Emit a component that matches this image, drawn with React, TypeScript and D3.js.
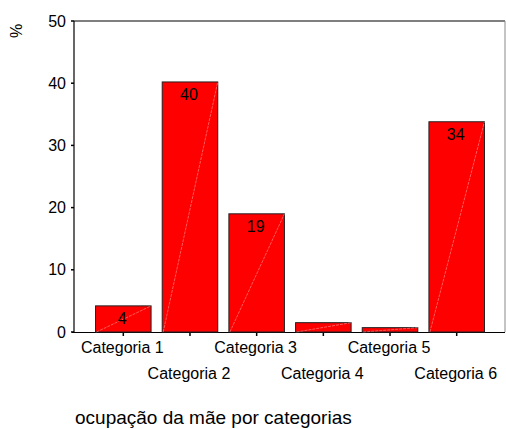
import * as d3 from "d3";

const categories = ["Categoria 1", "Categoria 2", "Categoria 3", "Categoria 4", "Categoria 5", "Categoria 6"];
const percents = [4.2, 40.2, 19.0, 1.5, 0.7, 33.8];
const barLabels = ["4", "40", "19", "", "", "34"];
const yTicks = [0, 10, 20, 30, 40, 50];

const font = "Arial, 'Liberation Sans', sans-serif";

export default function App() {
  const width = 506;
  const height = 429;
  const left = 74;
  const right = 505;
  const top = 21;
  const bottom = 332;

  const x = d3.scaleBand<string>().domain(categories).range([90, 490]).paddingInner(0.167).paddingOuter(0.083);
  const y = d3.scaleLinear().domain([0, 50]).range([bottom, top]);

  return (
    <svg width={width} height={height} style={{ position: "absolute", left: 0, top: 0, background: "#fff" }}>
      {/* frame */}
      <line x1={left} y1={top} x2={right} y2={top} stroke="#000" strokeWidth={1.2} />
      <line x1={right} y1={top} x2={right} y2={bottom} stroke="#888" strokeWidth={1} />
      <line x1={left} y1={top} x2={left} y2={bottom + 1} stroke="#000" strokeWidth={1.2} />
      <line x1={left - 2} y1={bottom + 0.5} x2={right} y2={bottom + 0.5} stroke="#000" strokeWidth={1.2} />

      {yTicks.map((t) => (
        <g key={t}>
          <line x1={left - 3} x2={left} y1={y(t)} y2={y(t)} stroke="#000" strokeWidth={1.5} />
          <text x={66} y={y(t) + 5.5} textAnchor="end" fontFamily={font} fontSize={16} fill="#000">
            {t}
          </text>
        </g>
      ))}

      <text
        transform="translate(22,31) rotate(-90)"
        textAnchor="middle"
        fontFamily={font}
        fontSize={16}
        fill="#000"
      >
        %
      </text>

      {categories.map((c, i) => {
        const bx = x(c)!;
        const bw = x.bandwidth();
        const by = y(percents[i]);
        const cx = bx + bw / 2;
        return (
          <g key={c}>
            <rect x={bx} y={by} width={bw} height={bottom - by} fill="#ff0000" stroke="#222" strokeWidth={1} />
            <line
              x1={bx + 1}
              y1={bottom}
              x2={bx + bw}
              y2={by}
              stroke="#ffc0c0"
              strokeWidth={0.6}
              strokeDasharray="3,1"
              opacity={0.8}
            />
            {barLabels[i] && (
              <text x={cx - 1} y={by + 18} textAnchor="middle" fontFamily={font} fontSize={16} fill="#000">
                {barLabels[i]}
              </text>
            )}
            <line x1={cx} x2={cx} y1={bottom + 1} y2={bottom + 4} stroke="#000" strokeWidth={1.5} />
            <text
              x={cx - 1}
              y={i % 2 === 0 ? 352.5 : 378.5}
              textAnchor="middle"
              fontFamily={font}
              fontSize={16}
              fill="#000"
            >
              {c}
            </text>
          </g>
        );
      })}

      <text x={75} y={424} fontFamily={font} fontSize={19} fill="#000">
        ocupação da mãe por categorias
      </text>
    </svg>
  );
}
